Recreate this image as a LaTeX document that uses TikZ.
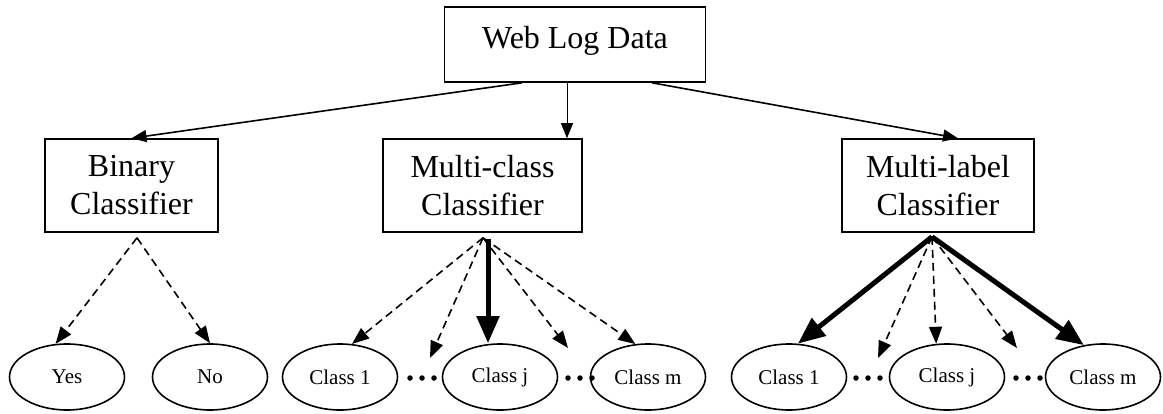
\documentclass[tikz,border=0pt]{standalone}
\usepackage{fontspec}
\setmainfont{Liberation Serif}
\usetikzlibrary{arrows.meta,shapes.geometric,calc}

\begin{document}
\begin{tikzpicture}[x=1pt,y=-1pt,
  box/.style={draw,line width=1.6pt,align=center,inner sep=0pt,
    font=\fontsize{32}{38}\selectfont,minimum height=93pt},
  leaf/.style={draw,ellipse,line width=1.6pt,inner sep=0pt,
    minimum width=115pt,minimum height=66pt,font=\fontsize{21}{25}\selectfont},
  link/.style={line width=1.6pt,-{Triangle[length=15pt,width=12pt]}},
  maybe/.style={line width=1.6pt,dash pattern=on 8pt off 5pt,
    -{Triangle[length=17pt,width=13pt]}},
  sure/.style={line width=5pt,-{Triangle[length=27pt,width=22pt]}},
  dot/.style={fill,circle,inner sep=0pt,minimum size=5.5pt}
]
\useasboundingbox (0,0) rectangle (1163,413);

% root and the three classifier kinds
\node[box,minimum width=261pt,minimum height=75pt,text depth=15pt] (web) at (575,44.5) {Web Log Data};
\node[box,minimum width=173pt] (bin) at (131.5,185.5) {Binary\\Classifier};
\node[box,minimum width=199pt] (mc) at (482.5,185.5) {Multi-class\\Classifier};
\node[box,minimum width=192pt] (ml) at (938,185.5) {Multi-label\\Classifier};

\draw[link] (web.south) ++(-53,0) coordinate (w1) (w1) -- (bin.north);
\draw[link,line width=1pt] ($(web.south)+(-8,0)$) coordinate (w2) (w2) -- ($(mc.north)+(84.5,0)$);
\draw[link] ($(web.south)+(77,0)$) coordinate (w3) (w3) -- ($(ml.north)+(20,0)$);

% binary outcomes
\node[leaf] (yes) at (67,377) {Yes};
\node[leaf] (no) at (210,377) {No};
\coordinate (bs) at ($(bin.south)+(5.5,5)$);
\draw[maybe] (bs) -- (yes.109);
\draw[maybe] (bs) -- (no.north);

% multi-class outcomes
\node[leaf] (mc1) at (340,377) {Class 1};
\node[leaf] (mcj) at (500,377) {Class j};
\node[leaf] (mcm) at (648,377) {Class m};
\foreach \n/\x in {mcda/422,mcdb/580}{
  \coordinate (\n) at (\x,378);
  \foreach \d [count=\i] in {-12,0,12}
    \node[dot] (\n\i) at ($(\n)+(\d,0)$) {};
}
\coordinate (ms) at ($(mc.south)+(0.5,5)$);
\draw[maybe] (ms) -- (mc1.70);
\draw[maybe] (ms) -- ($(mcda)+(8,-20)$) coordinate (mcta);
\draw[sure] ($(mc.south)+(5.5,6)$) coordinate (mst) (mst) -- (mst |- mcj.north);
\draw[maybe] (ms) -- ($(mcdb)+(-12,-30)$) coordinate (mctb);
\draw[maybe] (ms) -- (mcm.111);

% multi-label outcomes
\node[leaf] (ml1) at (789,377) {Class 1};
\node[leaf] (mlj) at (947,377) {Class j};
\node[leaf] (mlm) at (1103,377) {Class m};
\foreach \n/\x in {mlda/868,mldb/1028}{
  \coordinate (\n) at (\x,378);
  \foreach \d [count=\i] in {-12,0,12}
    \node[dot] (\n\i) at ($(\n)+(\d,0)$) {};
}
\coordinate (ls) at ($(ml.south)+(-6,4)$);
\draw[sure] (ls) -- (ml1.75);
\draw[maybe] (ls) -- ($(mlda)+(10,-20)$) coordinate (mlta);
\draw[maybe] (ls) -- (mlj.108);
\draw[maybe] (ls) -- ($(mldb)+(-11,-30)$) coordinate (mltb);
\draw[sure] (ls) -- (mlm.121);
\end{tikzpicture}
\end{document}
